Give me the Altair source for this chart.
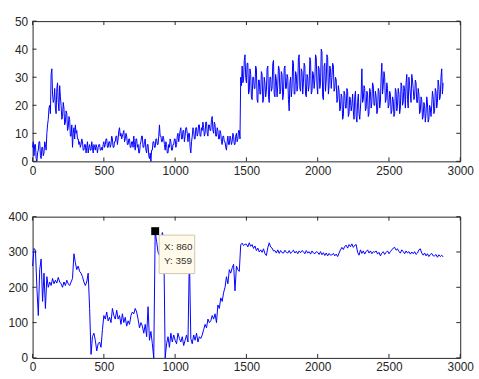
import altair as alt
import pandas as pd

# upper panel: one value every 5 samples
top_x = list(range(0, 2881, 5))
top_vals = [
    5, 7, 2, 6, 6, 1, 0, 3, 4, 7, 7, 2, 1, 5, 5, 2, 3, 7, 6, 4,
    10, 13, 15, 19, 20, 17, 31, 33, 24, 21, 22, 26, 19, 17, 26, 28, 21, 18, 27, 23,
    20, 15, 16, 21, 19, 13, 14, 18, 17, 11, 12, 16, 15, 9, 9, 13, 5, 10, 12, 8,
    13, 10, 11, 8, 8, 6, 7, 5, 6, 8, 7, 4, 4, 6, 6, 3, 5, 7, 3, 5,
    6, 4, 4, 7, 5, 3, 6, 5, 4, 6, 5, 3, 5, 6, 6, 4, 4, 5, 4, 6,
    7, 5, 6, 8, 8, 5, 5, 7, 7, 5, 6, 9, 8, 5, 5, 7, 7, 9, 9, 6,
    8, 11, 12, 9, 10, 8, 9, 10, 11, 7, 8, 10, 9, 6, 6, 8, 8, 5, 5, 7,
    7, 5, 9, 6, 4, 8, 8, 5, 6, 3, 3, 6, 7, 9, 9, 5, 5, 7, 8, 4,
    3, 6, 6, 2, 1, 3, 0, 4, 4, 7, 7, 5, 5, 8, 8, 6, 6, 9, 13, 9,
    9, 7, 7, 9, 8, 6, 4, 7, 6, 3, 3, 6, 5, 8, 7, 4, 4, 6, 6, 8,
    8, 5, 6, 9, 10, 7, 9, 11, 12, 8, 8, 11, 11, 7, 9, 12, 12, 10, 7, 10,
    10, 5, 3, 7, 9, 12, 11, 8, 8, 12, 12, 9, 10, 13, 13, 9, 9, 12, 11, 14,
    12, 9, 10, 14, 14, 10, 9, 13, 13, 11, 11, 15, 16, 11, 10, 14, 13, 9, 9, 12,
    11, 8, 8, 11, 10, 7, 6, 9, 9, 7, 7, 5, 4, 7, 9, 6, 6, 9, 8, 6,
    7, 10, 9, 6, 6, 9, 10, 7, 8, 11, 11, 8, 30, 27, 34, 28, 29, 36, 38, 30,
    28, 35, 35, 24, 25, 33, 31, 23, 22, 30, 30, 26, 26, 34, 33, 22, 21, 29, 29, 24,
    24, 32, 31, 21, 22, 30, 28, 23, 25, 33, 34, 23, 21, 30, 30, 25, 26, 35, 36, 24,
    23, 31, 29, 23, 27, 34, 33, 24, 25, 32, 31, 22, 24, 33, 34, 26, 26, 31, 30, 22,
    18, 28, 30, 23, 26, 36, 35, 24, 24, 32, 31, 25, 27, 37, 38, 26, 25, 33, 32, 24,
    28, 35, 34, 24, 23, 31, 30, 25, 27, 37, 36, 24, 25, 32, 31, 26, 29, 38, 37, 27,
    24, 34, 33, 26, 28, 40, 39, 23, 22, 34, 35, 25, 29, 38, 37, 24, 27, 34, 33, 26,
    30, 35, 34, 25, 26, 30, 29, 21, 22, 27, 25, 18, 19, 24, 23, 15, 16, 25, 24, 19,
    19, 26, 25, 16, 17, 23, 22, 18, 20, 24, 18, 15, 23, 25, 16, 14, 21, 24, 17, 15,
    19, 24, 33, 21, 22, 27, 26, 18, 19, 25, 24, 16, 17, 26, 25, 19, 21, 28, 27, 20,
    20, 25, 23, 17, 18, 26, 25, 19, 21, 30, 35, 24, 27, 32, 30, 21, 22, 28, 26, 19,
    20, 25, 24, 17, 18, 23, 22, 16, 17, 26, 25, 18, 20, 26, 24, 17, 19, 28, 27, 20,
    21, 27, 25, 19, 28, 31, 22, 19, 30, 27, 24, 21, 31, 29, 26, 22, 23, 29, 28, 21,
    21, 26, 24, 17, 18, 23, 22, 15, 16, 21, 20, 14, 17, 23, 21, 14, 15, 20, 19, 16,
    20, 25, 23, 17, 18, 26, 25, 19, 21, 29, 27, 22, 23, 30, 33, 24, 28,
]

# lower panel: one value every 10 samples
bottom_x = list(range(0, 2881, 10))
bottom_vals = [
    260, 310, 305, 200, 120, 250, 280, 160, 240, 140,
    230, 200, 215, 205, 225, 210, 220, 212, 228, 215,
    210, 200, 215, 205, 220, 210, 205, 215, 225, 295,
    270, 250, 260, 245, 240, 230, 215, 205, 215, 240,
    140, 10, 60, 70, 50, 20, 40, 45, 30, 80,
    120, 110, 130, 105, 115, 100, 140, 120, 110, 135,
    110, 120, 95, 125, 100, 115, 90, 105, 95, 120,
    130, 125, 140, 130, 110, 85, 100, 90, 70, 95,
    60, 145, 50, 75, 40, 0, 359, 330, 300, 290,
    320, 355, 340, 0, 40, 60, 30, 70, 45, 65,
    50, 40, 70, 55, 45, 60, 35, 50, 65, 45,
    290, 55, 40, 65, 50, 70, 45, 60, 55, 65,
    80, 95, 85, 110, 100, 105, 120, 110, 125, 100,
    150, 140, 170, 160, 185, 200, 230, 210, 250, 240,
    255, 265, 190, 260, 250, 245, 320, 325, 318, 322,
    322, 314, 326, 316, 321, 310, 317, 304, 311, 300,
    306, 299, 309, 295, 290, 312, 326, 314, 311, 303,
    304, 297, 306, 296, 304, 298, 297, 305, 299, 297,
    304, 296, 301, 305, 297, 302, 295, 303, 298, 304,
    301, 295, 304, 297, 301, 294, 303, 297, 295, 301,
    299, 293, 301, 292, 298, 290, 297, 289, 296, 291,
    292, 296, 289, 294, 287, 297, 306, 313, 307, 316,
    319, 311, 321, 315, 323, 313, 319, 321, 299, 291,
    306, 296, 303, 294, 301, 306, 297, 303, 295, 301,
    299, 303, 294, 299, 289, 297, 301, 293, 299, 303,
    295, 301, 306, 311, 313, 305, 309, 301, 297, 306,
    301, 295, 303, 297, 301, 294, 300, 295, 301, 293,
    297, 306, 309, 297, 291, 297, 289, 295, 287, 293,
    296, 289, 289, 293, 285, 292, 287, 291, 286,
]

x_ticks = [0, 500, 1000, 1500, 2000, 2500, 3000]
top_y_ticks = [0, 10, 20, 30, 40, 50]
bottom_y_ticks = [0, 100, 200, 300, 400]

# data tip
tip_x = [860]
tip_y = [359]
tip_lines = ["X: 860", "Y: 359"]

W = 433
H1 = 142
H2 = 143
FONT = "Liberation Sans"
INK = "#262626"


def panel(xs, ys, ymax, yticks, H, extra=None):
    df = pd.DataFrame({"x": xs, "y": ys})
    x_enc = alt.X(
        "x:Q",
        scale=alt.Scale(domain=[0, 3000], nice=False, zero=False),
        axis=alt.Axis(values=x_ticks, ticks=False, domain=False, grid=False,
                      labelPadding=4, title=None, format="d",
                      labelFlush=False),
    )
    y_enc = alt.Y(
        "y:Q",
        scale=alt.Scale(domain=[0, ymax], nice=False),
        axis=alt.Axis(values=yticks, ticks=False, domain=False, grid=False,
                      labelPadding=5, title=None, format="d",
                      labelFlush=False),
    )
    line = alt.Chart(df).mark_line(color="#0000FF", strokeWidth=1).encode(x=x_enc, y=y_enc)
    xt = pd.DataFrame({"x": x_ticks})
    yt = pd.DataFrame({"y": yticks})
    t1 = alt.Chart(xt).mark_rule(color=INK).encode(x=x_enc, y=alt.value(H), y2=alt.value(H - 4))
    t2 = alt.Chart(xt).mark_rule(color=INK).encode(x=x_enc, y=alt.value(0), y2=alt.value(4))
    t3 = alt.Chart(yt).mark_rule(color=INK).encode(y=y_enc, x=alt.value(0), x2=alt.value(4))
    t4 = alt.Chart(yt).mark_rule(color=INK).encode(y=y_enc, x=alt.value(W), x2=alt.value(W - 4))
    layers = [line, t1, t2, t3, t4]
    if extra is not None:
        layers += extra(x_enc, y_enc)
    return alt.layer(*layers).properties(width=W, height=H)


def tip_layers(x_enc, y_enc):
    d = pd.DataFrame({"x": tip_x, "y": tip_y})
    box = alt.Chart(d).mark_rect(
        fill="#FFFAEA", stroke="#CFC6AE", strokeWidth=1,
        xOffset=4, x2Offset=40, yOffset=4, y2Offset=43,
    ).encode(x=x_enc, y=y_enc, x2="x", y2="y")
    txt = pd.DataFrame({"x": tip_x * 2, "y": tip_y * 2, "t": tip_lines, "row": [0, 1]})
    text_layers = []
    for i in range(2):
        text_layers.append(
            alt.Chart(txt[txt.row == i]).mark_text(
                align="left", baseline="middle", font=FONT, fontSize=10,
                color="#333333", dx=9, dy=16 + 14 * i,
            ).encode(x=x_enc, y=y_enc, text="t:N")
        )
    sq = alt.Chart(d).mark_square(size=64, color="black", opacity=1).encode(x=x_enc, y=y_enc)
    return [box] + text_layers + [sq]


top = panel(top_x, top_vals, 50, top_y_ticks, H1)
bottom = panel(bottom_x, bottom_vals, 400, bottom_y_ticks, H2, extra=tip_layers)

chart = (
    alt.vconcat(top, bottom, spacing=56, bounds="flush")
    .properties(padding={"left": 7, "top": 12, "right": 5, "bottom": 5}, background="white")
    .configure_view(stroke=INK, strokeWidth=1)
    .configure_axis(labelFont=FONT, labelFontSize=12, labelColor=INK)
)

chart.save("out.html", embed_options={"renderer": "svg", "actions": False})
